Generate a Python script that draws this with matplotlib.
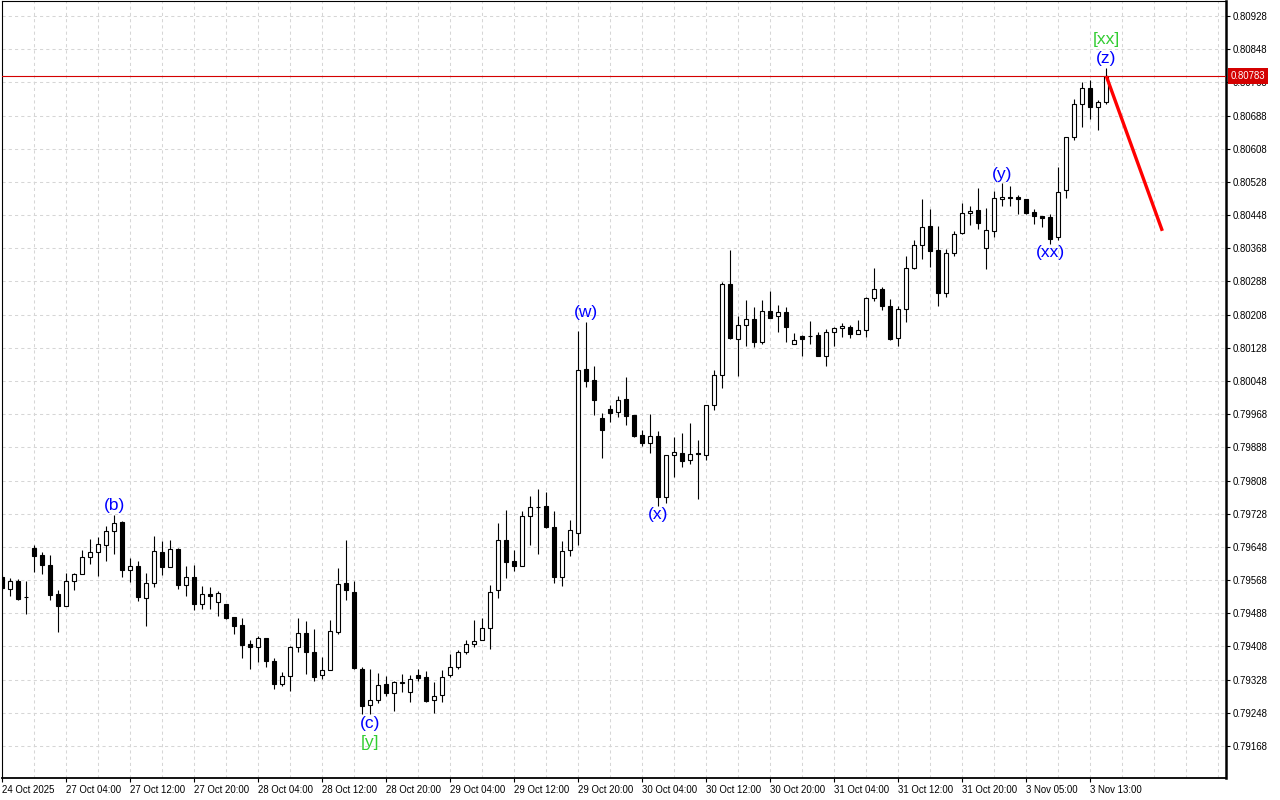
import matplotlib
matplotlib.use('Agg')
import matplotlib.pyplot as plt
from matplotlib.patches import Rectangle
from matplotlib.transforms import blended_transform_factory

# ---------------- data (H1 candles) ----------------
opens = [0.79575, 0.79547, 0.79566, 0.79528, 0.79645, 0.79628, 0.79604, 0.79534, 0.79506, 0.79565,
         0.79582, 0.79623, 0.79635, 0.79652, 0.79686, 0.79709, 0.79592, 0.79602, 0.79524, 0.79560,
         0.79636, 0.79599, 0.79644, 0.79555, 0.79575, 0.79510, 0.79534, 0.79515, 0.79510, 0.79479,
         0.79460, 0.79414, 0.79406, 0.79428, 0.79373, 0.79317, 0.79336, 0.79406, 0.79440, 0.79394,
         0.79338, 0.79350, 0.79444, 0.79561, 0.79539, 0.79353, 0.79266, 0.79279, 0.79317, 0.79295,
         0.79321, 0.79298, 0.79338, 0.79334, 0.79278, 0.79290, 0.79338, 0.79358, 0.79394, 0.79413,
         0.79423, 0.79452, 0.79543, 0.79664, 0.79613, 0.79603, 0.79723, 0.79744, 0.79746, 0.79695,
         0.79576, 0.79640, 0.79681, 0.80077, 0.80050, 0.79959, 0.79981, 0.79973, 0.80004, 0.79966,
         0.79918, 0.79899, 0.79915, 0.79769, 0.79869, 0.79874, 0.79857, 0.79874, 0.79869, 0.79989,
         0.80062, 0.80282, 0.80149, 0.80182, 0.80197, 0.80141, 0.80217, 0.80204, 0.80214, 0.80138,
         0.80157, 0.80156, 0.80159, 0.80109, 0.80165, 0.80175, 0.80178, 0.80162, 0.80170, 0.80247,
         0.80270, 0.80230, 0.80151, 0.80221, 0.80320, 0.80375, 0.80421, 0.80364, 0.80261, 0.80356,
         0.80404, 0.80452, 0.80460, 0.80369, 0.80409, 0.80486, 0.80491, 0.80491, 0.80486, 0.80455,
         0.80445, 0.80443, 0.80396, 0.80508, 0.80636, 0.80715, 0.80754, 0.80708, 0.80720]
highs = [0.79580, 0.79572, 0.79570, 0.79566, 0.79653, 0.79636, 0.79628, 0.79544, 0.79584, 0.79586,
         0.79641, 0.79666, 0.79673, 0.79699, 0.79725, 0.79711, 0.79621, 0.79614, 0.79586, 0.79674,
         0.79662, 0.79665, 0.79645, 0.79602, 0.79604, 0.79554, 0.79552, 0.79542, 0.79511, 0.79479,
         0.79476, 0.79424, 0.79433, 0.79429, 0.79381, 0.79347, 0.79408, 0.79477, 0.79469, 0.79450,
         0.79383, 0.79472, 0.79596, 0.79665, 0.79566, 0.79358, 0.79354, 0.79343, 0.79337, 0.79325,
         0.79341, 0.79338, 0.79353, 0.79349, 0.79322, 0.79351, 0.79389, 0.79399, 0.79424, 0.79472,
         0.79476, 0.79555, 0.79705, 0.79736, 0.79641, 0.79734, 0.79771, 0.79788, 0.79780, 0.79734,
         0.79662, 0.79713, 0.80169, 0.80191, 0.80084, 0.79971, 0.79991, 0.80012, 0.80058, 0.79967,
         0.79929, 0.79968, 0.79927, 0.79870, 0.79913, 0.79923, 0.79947, 0.79906, 0.79990, 0.80074,
         0.80286, 0.80364, 0.80205, 0.80243, 0.80226, 0.80243, 0.80265, 0.80231, 0.80226, 0.80164,
         0.80159, 0.80193, 0.80165, 0.80173, 0.80178, 0.80188, 0.80183, 0.80195, 0.80251, 0.80321,
         0.80275, 0.80245, 0.80229, 0.80349, 0.80388, 0.80486, 0.80462, 0.80422, 0.80366, 0.80410,
         0.80476, 0.80470, 0.80513, 0.80465, 0.80505, 0.80525, 0.80519, 0.80497, 0.80487, 0.80463,
         0.80446, 0.80451, 0.80565, 0.80636, 0.80728, 0.80769, 0.80773, 0.80726, 0.80803]
lows = [0.79544, 0.79530, 0.79520, 0.79486, 0.79588, 0.79583, 0.79520, 0.79444, 0.79506, 0.79545,
        0.79582, 0.79607, 0.79578, 0.79615, 0.79630, 0.79576, 0.79563, 0.79518, 0.79457, 0.79551,
        0.79580, 0.79599, 0.79547, 0.79530, 0.79496, 0.79499, 0.79499, 0.79482, 0.79475, 0.79437,
        0.79381, 0.79354, 0.79371, 0.79358, 0.79305, 0.79313, 0.79301, 0.79395, 0.79342, 0.79325,
        0.79329, 0.79350, 0.79437, 0.79519, 0.79353, 0.79246, 0.79244, 0.79271, 0.79289, 0.79252,
        0.79297, 0.79275, 0.79325, 0.79275, 0.79248, 0.79275, 0.79334, 0.79353, 0.79389, 0.79407,
        0.79423, 0.79401, 0.79524, 0.79574, 0.79591, 0.79601, 0.79653, 0.79632, 0.79693, 0.79562,
        0.79554, 0.79626, 0.79653, 0.80034, 0.79966, 0.79863, 0.79948, 0.79962, 0.79942, 0.79914,
        0.79891, 0.79875, 0.79747, 0.79754, 0.79817, 0.79841, 0.79847, 0.79764, 0.79857, 0.79979,
        0.80032, 0.80150, 0.80061, 0.80133, 0.80131, 0.80137, 0.80200, 0.80166, 0.80143, 0.80136,
        0.80109, 0.80137, 0.80108, 0.80083, 0.80133, 0.80155, 0.80152, 0.80161, 0.80155, 0.80240,
        0.80218, 0.80148, 0.80133, 0.80191, 0.80319, 0.80343, 0.80324, 0.80230, 0.80250, 0.80350,
        0.80403, 0.80423, 0.80415, 0.80317, 0.80394, 0.80471, 0.80471, 0.80451, 0.80451, 0.80427,
        0.80419, 0.80379, 0.80388, 0.80490, 0.80630, 0.80661, 0.80680, 0.80654, 0.80716]
closes = [0.79548, 0.79566, 0.79523, 0.79526, 0.79627, 0.79604, 0.79533, 0.79506, 0.79566, 0.79582,
          0.79623, 0.79636, 0.79655, 0.79686, 0.79705, 0.79592, 0.79603, 0.79526, 0.79560, 0.79637,
          0.79599, 0.79642, 0.79557, 0.79575, 0.79511, 0.79534, 0.79529, 0.79536, 0.79477, 0.79458,
          0.79412, 0.79406, 0.79429, 0.79372, 0.79317, 0.79337, 0.79407, 0.79440, 0.79394, 0.79335,
          0.79350, 0.79445, 0.79559, 0.79543, 0.79355, 0.79265, 0.79278, 0.79316, 0.79295, 0.79322,
          0.79322, 0.79329, 0.79333, 0.79277, 0.79289, 0.79334, 0.79358, 0.79394, 0.79414, 0.79422,
          0.79452, 0.79540, 0.79664, 0.79612, 0.79603, 0.79723, 0.79744, 0.79743, 0.79697, 0.79576,
          0.79637, 0.79688, 0.80074, 0.80049, 0.80001, 0.79930, 0.79972, 0.80002, 0.79964, 0.79915,
          0.79899, 0.79915, 0.79769, 0.79869, 0.79876, 0.79856, 0.79871, 0.79873, 0.79989, 0.80062,
          0.80282, 0.80152, 0.80182, 0.80197, 0.80141, 0.80216, 0.80201, 0.80214, 0.80179, 0.80146,
          0.80150, 0.80157, 0.80109, 0.80165, 0.80175, 0.80181, 0.80162, 0.80170, 0.80247, 0.80270,
          0.80230, 0.80149, 0.80221, 0.80320, 0.80375, 0.80419, 0.80362, 0.80261, 0.80356, 0.80402,
          0.80452, 0.80457, 0.80430, 0.80411, 0.80489, 0.80491, 0.80490, 0.80486, 0.80454, 0.80446,
          0.80442, 0.80391, 0.80504, 0.80636, 0.80715, 0.80754, 0.80708, 0.80720, 0.80783]

x_tick_labels = ['24 Oct 2025', '27 Oct 04:00', '27 Oct 12:00', '27 Oct 20:00', '28 Oct 04:00',
                 '28 Oct 12:00', '28 Oct 20:00', '29 Oct 04:00', '29 Oct 12:00', '29 Oct 20:00',
                 '30 Oct 04:00', '30 Oct 12:00', '30 Oct 20:00', '31 Oct 04:00', '31 Oct 12:00',
                 '31 Oct 20:00', '3 Nov 05:00', '3 Nov 13:00']
y_tick_values = [0.79168, 0.79248, 0.79328, 0.79408, 0.79488, 0.79568, 0.79648, 0.79728,
                 0.79808, 0.79888, 0.79968, 0.80048, 0.80128, 0.80208, 0.80288, 0.80368,
                 0.80448, 0.80528, 0.80608, 0.80688, 0.80768, 0.80848, 0.80928]

current_price = 0.80783

# wave labels: text, bar index, side of candle, stacking level, colour
wave_texts = ['(b)', '(c)', '[y]', '(w)', '(x)', '(y)', '(xx)', '(z)', '[xx]']
wave_bars = [14, 46, 46, 73, 82, 125, 131, 138, 138]
wave_sides = ['high', 'low', 'low', 'high', 'low', 'high', 'low', 'high', 'high']
wave_levels = [0, 0, 1, 0, 0, 0, 0, 0, 1]
wave_colors = ['blue', 'blue', 'limegreen', 'blue', 'blue', 'blue', 'blue', 'blue', 'limegreen']

# forecast projection line
forecast_bars = [138, 145]
forecast_prices = [0.80783, 0.80410]

# ---------------- drawing ----------------
W, H = 1280, 800
fig = plt.figure(figsize=(12.8, 8), dpi=100)
fig.patch.set_facecolor('white')
ax = fig.add_axes([2 / W, 22 / H, 1224 / W, 777 / H])
ax.set_xlim(-0.0375, 152.96)
ax.set_ylim(0.790908, 0.809642)

grid_kw = dict(color='#d6d6d6', lw=0.75, ls=(0, (3, 3)), zorder=0)
for v in y_tick_values:
    ax.axhline(v, **grid_kw)
for i in range(0, 153, 4):
    ax.axvline(i, **grid_kw)

body_w = 0.5
for i, (o, h, l, c) in enumerate(zip(opens, highs, lows, closes)):
    ax.plot([i, i], [l, h], color='black', lw=0.8, zorder=2, solid_capstyle='butt')
    bull = c >= o
    bottom = min(o, c)
    height = max(abs(c - o), 1e-7)
    ax.add_patch(Rectangle((i - body_w / 2, bottom), body_w, height,
                           facecolor='white' if bull else 'black',
                           edgecolor='black', lw=0.8, zorder=3))

# current price line
price_color = '#d40000'
ax.axhline(current_price, color=price_color, lw=0.8, zorder=4)

# forecast line
ax.plot(forecast_bars, forecast_prices, color='#ff0000', lw=2.4, zorder=5,
        solid_capstyle='butt')

# wave labels
for t, b, side, lev, col in zip(wave_texts, wave_bars, wave_sides, wave_levels, wave_colors):
    off_px = 9 if lev == 0 else 28
    if side == 'high':
        y = highs[b]
        dy = off_px * 0.72
    else:
        y = lows[b]
        dy = -off_px * 0.72
    ax.annotate(t, xy=(b, y), xytext=(0, dy), textcoords='offset points',
                ha='center', va='center', color=col, fontsize=12.5,
                family='Liberation Sans', zorder=6)

# axes styling
for s in ['left', 'top']:
    ax.spines[s].set_linewidth(0.8)
ax.spines['right'].set_linewidth(1.8)
ax.spines['bottom'].set_linewidth(1.3)

ax.yaxis.tick_right()
ax.set_yticks(y_tick_values)
ax.set_yticklabels([f'{v:.5f}' for v in y_tick_values])
ax.tick_params(axis='y', direction='out', length=3, width=0.8, pad=1.5,
               labelsize=6.9, right=True, left=False)

ax.set_xticks(list(range(0, 8 * len(x_tick_labels), 8)))
ax.set_xticklabels(x_tick_labels, ha='left')
ax.tick_params(axis='x', direction='out', length=3, width=0.8, pad=2, labelsize=6.9)
for lab in ax.get_xticklabels() + ax.get_yticklabels():
    lab.set_family('Liberation Sans')

# current price tag on the axis
trans = blended_transform_factory(ax.transAxes, ax.transData)
ax.text(1.0035, current_price, f'{current_price:.5f}', transform=trans,
        color='white', fontsize=6.9, family='Liberation Sans', va='center', ha='left',
        bbox=dict(boxstyle='square,pad=0.28', fc=price_color, ec='none'),
        zorder=10, clip_on=False)

fig.savefig('out.png', dpi=100)
